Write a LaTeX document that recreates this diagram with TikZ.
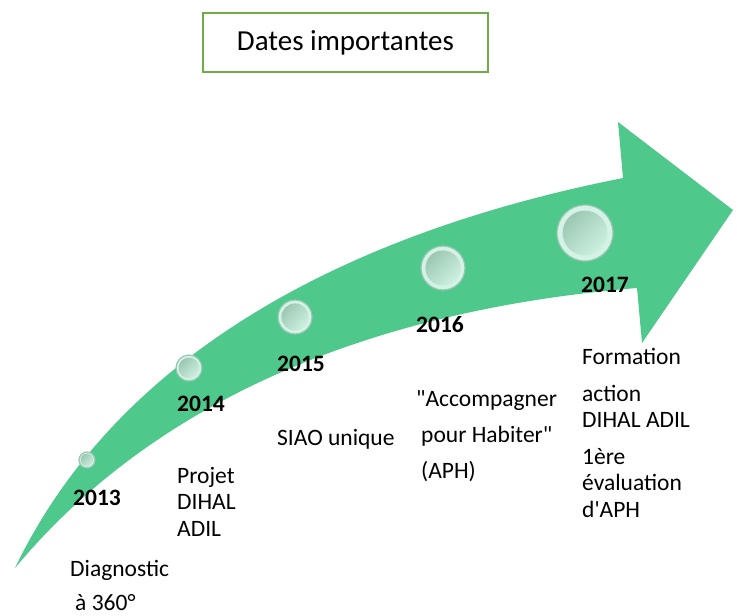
\documentclass[tikz,border=0pt]{standalone}
\usepackage{fontspec}
\setmainfont{Carlito}
\definecolor{arrowGreen}{HTML}{4EC88B}
\definecolor{titleGreen}{HTML}{70AD47}
\definecolor{bubbleLight}{HTML}{CDF0E0}
\definecolor{bubbleDark}{HTML}{9CC8B3}
\definecolor{bubbleEdge}{HTML}{97C7B0}
\newcommand{\bubble}[3]{%
  \fill[bubbleLight!85!white] (#1,#2) circle (#3);
  \draw[bubbleEdge,line width=1.2] (#1,#2) circle (#3);
  \shade[left color=bubbleDark,right color=bubbleLight,shading angle=45] (#1,#2) circle ({0.8*#3});
}
\tikzset{
  year/.style={font=\bfseries\fontsize{23.5}{26.5}\selectfont,anchor=base west,inner sep=0pt},
  event/.style={font=\fontsize{23.5}{26.5}\selectfont,anchor=base west,inner sep=0pt,align=left}
}

\begin{document}
\begin{tikzpicture}[x=1pt,y=-1pt]
        \useasboundingbox (0,0) rectangle (737,616);

        % Title
        \node[draw=titleGreen,line width=2.5,minimum width=285,minimum height=59,
          font=\fontsize{29}{34}\selectfont] (title) at (345.5,42.5) {Dates importantes};

        % Arrow
        \fill[arrowGreen] (15,568) .. controls (110,370) and (320,238) .. (623,178)
          -- (618,122) -- (733,210) -- (642,343) -- (637,288)
          .. controls (430,305) and (180,370) .. (15,568) -- cycle;

        % Bubbles
        \bubble{87}{460}{8}
        \bubble{189}{368}{13}
        \bubble{295}{317}{17}
        \bubble{443}{268}{22}
        \bubble{585}{233}{28}

        % Years
        \node[year] (y2013) at (73,505) {2013};
        \node[year] (y2014) at (177,411) {2014};
        \node[year] (y2015) at (277,371) {2015};
        \node[year] (y2016) at (416,332) {2016};
        \node[year] (y2017) at (581,292) {2017};

        % Events (anchored on the baseline of the last line)
        \node[event] (e2013) at (70,610) {Diagnostic\\[7.5pt]\hspace*{5pt}à 360°};
        \node[event] (e2014) at (177,536) {Projet\\DIHAL\\ADIL};
        \node[event] (e2015) at (277,445) {SIAO unique};
        \node[event] (e2016) at (416,478) {\textquotedbl Accompagner\\[10pt]\hspace*{5pt}pour Habiter\textquotedbl\\[9pt]\hspace*{5pt}(APH)};
        \node[event] (e2017) at (582,517) {Formation\\[10pt]action\\DIHAL ADIL\\[10pt]1ère\\évaluation\\d\textquotesingle APH};
      \end{tikzpicture}
\end{document}
